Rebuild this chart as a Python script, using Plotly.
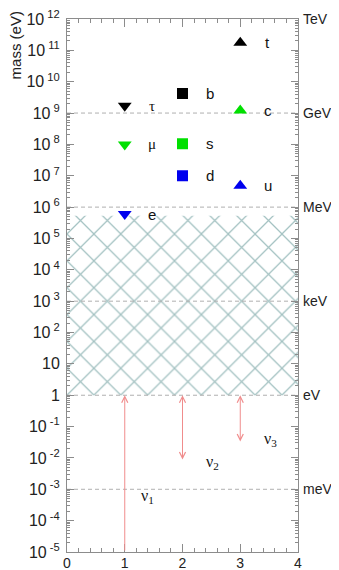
import numpy as np
import plotly.graph_objects as go

# ---------------- data ----------------
lepton_names = ["τ", "μ", "e"]
lepton_x = [1, 1, 1]
lepton_mass = [1.7e9, 1.0e8, 6.0e5]

down_names = ["b", "s", "d"]
down_x = [2, 2, 2]
down_mass = [4.2e9, 1.05e8, 1.0e7]

up_names = ["t", "c", "u"]
up_x = [3, 3, 3]
up_mass = [1.75e11, 1.2e9, 4.8e6]

gen_colors = ["#000000", "#00e000", "#0000ee"]

nu_names = ["ν<sub>1</sub>", "ν<sub>2</sub>", "ν<sub>3</sub>"]
nu_x = [1, 2, 3]
nu_upper = [1.0, 1.0, 1.0]
nu_lower = [1e-5, 8e-3, 3e-2]
nu_label_x = [1.4, 2.52, 3.52]
nu_label_y = [6e-4, 7e-3, 3.8e-2]

hatch_low = 1.0
hatch_high = 5.3e5

unit_levels = [1e12, 1e9, 1e6, 1e3, 1.0, 1e-3]
unit_names = ["TeV", "GeV", "MeV", "keV", "eV", "meV"]
dashed_levels = [1e9, 1e6, 1e3, 1.0, 1e-3]

exponents = list(range(-5, 13))
ytick_vals = [10.0 ** e for e in exponents]
ytick_text = ["1" if e == 0 else ("10" if e == 1 else "10<sup> %d</sup>" % e) for e in exponents]
yminor_vals = [k * 10.0 ** e for e in range(-5, 12) for k in range(2, 10)]

XMIN, XMAX = 0, 4
SANS = "Liberation Sans, Arial, sans-serif"
SERIF = "Liberation Serif, Times New Roman, serif"

fig = go.Figure()

# hatched region
fig.add_trace(go.Scatter(
    x=[XMIN, XMAX, XMAX, XMIN, XMIN],
    y=[hatch_low, hatch_low, hatch_high, hatch_high, hatch_low],
    mode="lines", line=dict(width=0), fill="toself",
    fillcolor="rgba(255,255,255,0)",
    fillpattern=dict(shape="x", size=19, solidity=0.13,
                     fgcolor="#4a8585", bgcolor="rgba(255,255,255,0)", fillmode="overlay"),
    hoverinfo="skip", showlegend=False))

# dashed unit lines
for lvl in dashed_levels:
    fig.add_trace(go.Scatter(x=[XMIN, XMAX], y=[lvl, lvl], mode="lines",
                             line=dict(color="#b0b0b0", width=1, dash="4px,3px"),
                             hoverinfo="skip", showlegend=False))

# particles
groups = [
    (lepton_x, lepton_mass, lepton_names, "triangle-down"),
    (down_x, down_mass, down_names, "square"),
    (up_x, up_mass, up_names, "triangle-up"),
]
for xs, ms, names, sym in groups:
    fig.add_trace(go.Scatter(x=xs, y=ms, mode="markers",
                             marker=dict(symbol=sym, size=12 if sym != "square" else 11,
                                         color=gen_colors, line=dict(width=0)),
                             hoverinfo="skip", showlegend=False))
    for x, m, n in zip(xs, ms, names):
        greek = n in ("τ", "μ")
        fig.add_annotation(x=x + 0.48, y=np.log10(m), text=n, showarrow=False,
                           xanchor="center", yanchor="middle",
                           font=dict(family=SERIF if greek else SANS, size=15, color="#111"))

# neutrino arrows
for i, (x, hi, lo) in enumerate(zip(nu_x, nu_upper, nu_lower)):
    fig.add_annotation(x=x, y=np.log10(hi), ax=x, ay=np.log10(lo),
                       xref="x", yref="y", axref="x", ayref="y",
                       text="", showarrow=True, arrowhead=5, arrowsize=1.2,
                       arrowwidth=1, arrowcolor="#f08c8c", standoff=0, startstandoff=0,
                       startarrowhead=5, startarrowsize=1.2,
                       arrowside="end" if i == 0 else "end+start")
for n, lx, ly in zip(nu_names, nu_label_x, nu_label_y):
    fig.add_annotation(x=lx, y=np.log10(ly), text=n, showarrow=False,
                       font=dict(family=SERIF, size=16, color="#111"))

# right-side unit labels
for lvl, name in zip(unit_levels, unit_names):
    fig.add_annotation(x=1.0, xref="paper", y=np.log10(lvl), yref="y", text=name,
                       showarrow=False, xanchor="left", xshift=3,
                       font=dict(family=SANS, size=14, color="#222"))

# y title
fig.add_annotation(x=-0.225, xref="paper", y=1.018, yref="paper", text="mass (eV)",
                   textangle=-90, showarrow=False, xanchor="center", yanchor="top",
                   font=dict(family=SANS, size=15, color="#222"))

axis_col = "#8c8c8c"
fig.update_xaxes(range=[XMIN, XMAX], tickmode="linear", tick0=0, dtick=1,
                 ticks="inside", ticklen=8, tickcolor=axis_col, tickwidth=1,
                 minor=dict(ticks="inside", ticklen=4, dtick=0.2, tick0=0, tickcolor=axis_col),
                 showline=True, linecolor=axis_col, linewidth=1, mirror="ticks",
                 showgrid=False, zeroline=False, automargin=False, ticklabeloverflow="allow",
                 ticklabelstandoff=-2,
                 tickfont=dict(family=SANS, size=14, color="#222"))
fig.update_yaxes(type="log", range=[-5, 12], tickmode="array",
                 tickvals=ytick_vals, ticktext=ytick_text,
                 ticks="inside", ticklen=7, tickcolor=axis_col, tickwidth=1,
                 minor=dict(ticks="inside", ticklen=3, tickmode="array", tickvals=yminor_vals,
                            tickcolor=axis_col),
                 showline=True, linecolor=axis_col, linewidth=1, mirror="ticks",
                 showgrid=False, zeroline=False, ticklabelstandoff=3, automargin=False,
                 ticklabeloverflow="allow",
                 tickfont=dict(family=SANS, size=16, color="#222"))

# page has an 8px body margin, so the figure is sized to fit inside the window
fig.update_layout(width=331, height=562, margin=dict(l=59, r=41, t=11, b=18),
                  paper_bgcolor="white", plot_bgcolor="white", showlegend=False)

fig.write_html("out.html")
